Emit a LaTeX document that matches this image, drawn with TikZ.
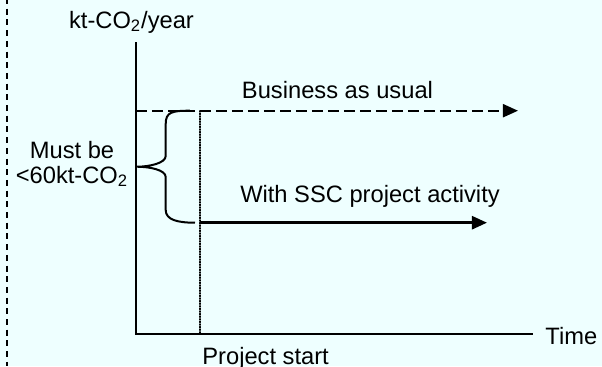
\documentclass[tikz,border=0pt]{standalone}
\usepackage{fontspec}
\setmainfont{Liberation Sans}
\usepackage{tkz-euclide}
\usetikzlibrary{arrows.meta}
\tikzset{>={Triangle[length=7.5pt,width=6.5pt]}}
\definecolor{paleCyan}{RGB}{238,255,255}

\begin{document}
\begin{tikzpicture}[x=0.5pt, y=-0.5pt,
    every node/.style={font=\fontsize{11.85}{12.5}\selectfont, inner sep=0pt}]
    \fill[paleCyan] (0,0) rectangle (602,366);
    \useasboundingbox (0,0) rectangle (602,366);
    \tkzDefPoints{7.5/-2/L, 7.5/366/M, 136/334/O, 136/42/Y, 533/334/T}
    \tkzDefPoints{136/110.7/B, 518/110.7/C, 200/110.7/S, 200/334/E}
    \tkzDefPoints{200/222.7/P, 487/222.7/Q, 190/110.7/U, 195/222.7/V, 136.7/166.7/K}
    % frame edge and axes
    \draw[line width=1pt, dash pattern=on 3pt off 2.35pt] (L) -- (M);
    \draw[line width=1pt] (Y) -- (O) -- (T);
    \tkzDrawSegment[line width=0.6pt, dash pattern=on 0.6pt off 0.7pt](S,E)
    % the two emission paths
    \draw[->, line width=1pt, dash pattern=on 5.5pt off 2.5pt] (B) -- (C);
    \draw[->, line width=1.3pt] (P) -- (Q);
    % brace
    \draw[line width=1pt] (U) .. controls (172,110.7) and (165.7,112) .. (165.7,124)
        -- (165.7,156) .. controls (165.7,163) and (150,166.7) .. (K)
        .. controls (150,166.7) and (165.7,170) .. (165.7,177)
        -- (165.7,210) .. controls (165.7,220) and (178,222.7) .. (V);
    \node (ylabel) at (131.5,28) [anchor = base] {kt-CO\textsubscript{2}/year};
    \node (limit) at (72,183) [anchor = base, align = center] {Must be\\<60kt-CO\textsubscript{2}};
    \node (bau) at (337.5,98) [anchor = base] {Business as usual};
    \node (ssc) at (370,202) [anchor = base] {With SSC project activity};
    \node (time) at (T) [anchor = base west, xshift = 6pt, yshift = -5pt] {Time};
    \node (start) at (E) [anchor = base west, xshift = 1pt, yshift = -15pt] {Project start};
\end{tikzpicture}
\end{document}
